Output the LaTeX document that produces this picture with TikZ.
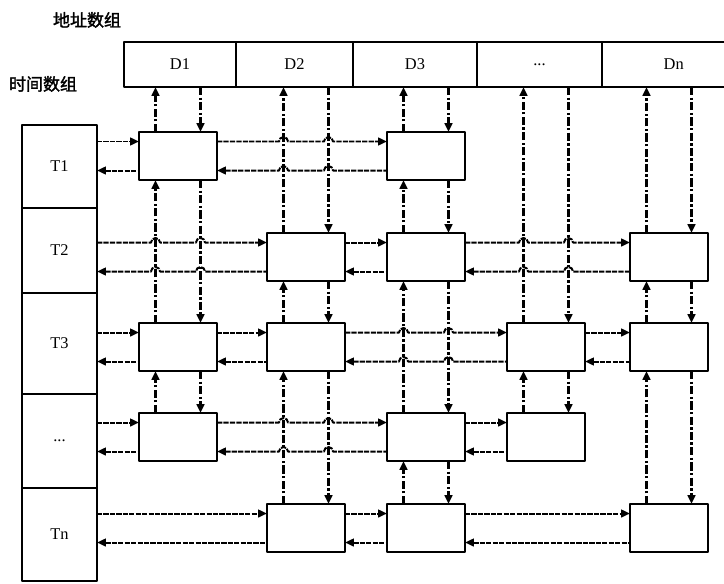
\documentclass[tikz,border=0pt]{standalone}
\usepackage{fontspec}
\setmainfont{Liberation Serif}
\newfontfamily\cjk{Noto Sans CJK SC}[AutoFakeBold=2]
\usetikzlibrary{positioning,arrows.meta}
% horizontal pair of lines that hop over the vertical lines at the given x
\newcommand\jumpline[4]{%
  \draw[hl,->] ([yshift=.435cm]#2.west -| #1.east) \foreach \jx in {#4}{ -- (\jx-4.5,#3-14.5) arc[start angle=180,end angle=0,radius=.135cm]} -- ([yshift=.435cm]#2.west);
  \draw[hl,<-] ([yshift=-.435cm]#2.west -| #1.east) \foreach \jx in {#4}{ -- (\jx-4.5,#3+14.5) arc[start angle=180,end angle=0,radius=.135cm]} -- ([yshift=-.435cm]#2.west);}
\begin{document}
\begin{tikzpicture}[x=.03cm,y=-.03cm,line join=round,>={Triangle[length=7.5pt,width=6.5pt]},
	dcell/.style={draw,line width=2pt,inner sep=0pt,outer sep=0pt,minimum height=1.35cm,font=\fontsize{14}{16}\selectfont},
	tcell/.style={dcell,minimum width=2.25cm},
	slot/.style={draw,line width=2.4pt,fill=white,inner sep=0pt,outer sep=0pt,minimum width=2.34cm,minimum height=1.44cm},
	hl/.style={line width=1.7pt,dash pattern=on 4.5pt off 1pt},
	vl/.style={line width=1.9pt,dash pattern=on 7pt off 2pt on 2pt off 2pt},
	lab/.style={font=\cjk\bfseries\fontsize{14.5}{16}\selectfont}]
	\useasboundingbox (0,0) rectangle (724,583);
	\def\ca{178} \def\cb{306} \def\cc{426} \def\cd{546} \def\ce{669}
	\def\ra{156} \def\rb{257} \def\rc{347} \def\rd{437} \def\re{528}
	\node[lab] (addr) at (87,20) {地址数组};
	\node[lab] (time) at (43,84) {时间数组};
	% address array
	\node[dcell,minimum width=3.36cm] (d1) at (180,64.5) {D1};
	\node[dcell,minimum width=3.51cm,right=0pt of d1] (d2) {D2};
	\node[dcell,minimum width=3.72cm,right=0pt of d2] (d3) {D3};
	\node[dcell,minimum width=3.75cm,right=0pt of d3] (dd) {...};
	\node[dcell,minimum width=4.3cm,right=0pt of dd] (dn) {Dn};
	% time array
	\node[tcell,minimum height=2.49cm] (t1) at (59.5,166.5) {T1};
	\node[tcell,minimum height=2.55cm,below=0pt of t1] (t2) {T2};
	\node[tcell,minimum height=3.03cm,below=0pt of t2] (t3) {T3};
	\node[tcell,minimum height=2.82cm,below=0pt of t3] (td) {...};
	\node[tcell,minimum height=2.79cm,below=0pt of td] (tn) {Tn};
	% cells
	\foreach \n/\x/\y in {b11/\ca/\ra,b13/\cc/\ra,b22/\cb/\rb,b23/\cc/\rb,b2n/\ce/\rb,
		b31/\ca/\rc,b32/\cb/\rc,b3d/\cd/\rc,b3n/\ce/\rc,b41/\ca/\rd,b43/\cc/\rd,b4d/\cd/\rd,
		b52/\cb/\re,b53/\cc/\re,b5n/\ce/\re}
		\node[slot] (\n) at (\x,\y) {};
	% columns
	\foreach \a/\b in {d1/b11,b11/b31,b31/b41,d2/b22,b22/b32,b32/b52,d3/b13,b13/b23,b23/b43,b43/b53,
		dd/b3d,b3d/b4d,dn/b2n,b2n/b3n,b3n/b5n}{
		\draw[vl,->] ([xshift=-.675cm]\b.north) -- ([xshift=-.675cm]\b.north |- \a.south);
		\draw[vl,->] ([xshift=.675cm]\b.north |- \a.south) -- ([xshift=.675cm]\b.north);
	}
	% rows
	\foreach \a/\b in {t1/b11,b22/b23,t3/b31,b31/b32,b3d/b3n,td/b41,b43/b4d,tn/b52,b52/b53,b53/b5n}{
		\draw[hl,->] ([yshift=.435cm]\b.west -| \a.east) -- ([yshift=.435cm]\b.west);
		\draw[hl,<-] ([yshift=-.435cm]\b.west -| \a.east) -- ([yshift=-.435cm]\b.west);
	}
	\jumpline{b11}{b13}{\ra}{283.5,328.5}
	\jumpline{t2}{b22}{\rb}{155.5,200.5}
	\jumpline{b23}{b2n}{\rb}{523.5,568.5}
	\jumpline{b32}{b3d}{\rc}{403.5,448.5}
	\jumpline{b41}{b43}{\rd}{283.5,328.5}
\end{tikzpicture}
\end{document}
